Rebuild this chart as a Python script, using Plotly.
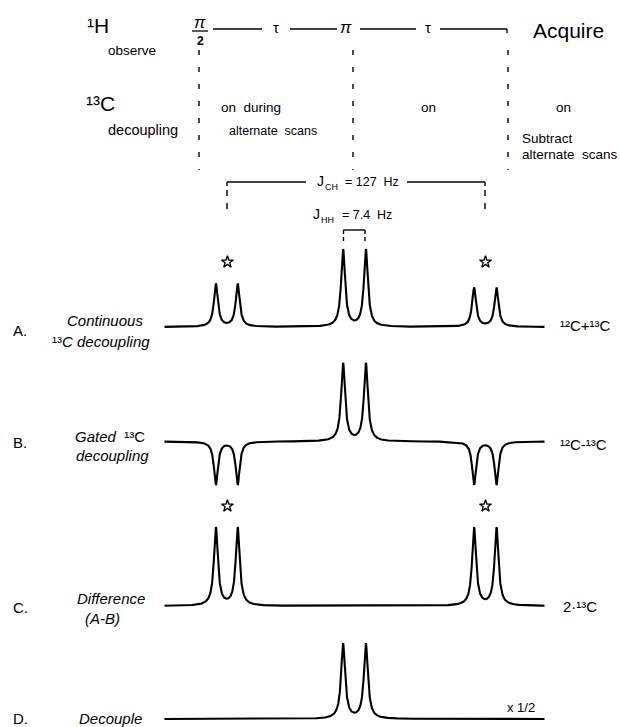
import numpy as np
import plotly.graph_objects as go

# ---------------- data ----------------
# schematic frequency axis (Hz, not to scale for the small splittings)
freq_limits = [-95.0, 95.0]
center_pos = [-5.7, 5.7]                      # 12C-H doublet (J_HH)
sat_pos = [-69.3, -58.4, 59.8, 71.0]          # 13C satellites (J_CH)
line_halfwidth = 1.2                          # Lorentzian half width (Hz)

spectra_names = ["A", "B", "C", "D"]
center_heights = {"A": [77, 77], "B": [78, 78], "C": [0, 0], "D": [75, 75]}
sat_heights = {"A": [43, 43, 39, 39], "B": [-43, -43, -43, -43],
               "C": [78, 78, 78, 78], "D": [0, 0, 0, 0]}
starred_spectra = ["A", "C"]                  # 13C satellites marked with *

# ---------------- layout constants ----------------
W, H = 620, 727
PX_PER_HZ = 2.0
ZERO_PX = 354.5
baseline_px = {"A": 327, "B": 441.5, "C": 606, "D": 719}
star_gap = 22                                 # px above the satellite tops
FONT = "Liberation Sans"

x = np.linspace(freq_limits[0], freq_limits[1], 7601)


def spectrum(name):
    pos = center_pos + sat_pos
    hts = center_heights[name] + sat_heights[name]
    y = np.zeros_like(x)
    g2 = line_halfwidth ** 2
    for p, h in zip(pos, hts):
        y += h * g2 / ((x - p) ** 2 + g2)
    return y


fig = go.Figure()
for name in spectra_names:
    offset = H - baseline_px[name]
    fig.add_trace(go.Scatter(x=x, y=spectrum(name) + offset,
                             mode="lines", line=dict(color="black", width=2.1),
                             hoverinfo="skip", showlegend=False))

# stars over the 13C satellite doublets
for name in starred_spectra:
    offset = H - baseline_px[name]
    sx = [(sat_pos[0] + sat_pos[1]) / 2 + 0.3, (sat_pos[2] + sat_pos[3]) / 2 + 0.1]
    top = max(sat_heights[name])
    fig.add_trace(go.Scatter(x=sx, y=[offset + top + star_gap] * 2, mode="markers",
                             marker=dict(symbol="star-open", size=9, color="black",
                                         line=dict(color="black", width=1.3)),
                             hoverinfo="skip", showlegend=False))

xr = [-ZERO_PX / PX_PER_HZ, (W - ZERO_PX) / PX_PER_HZ]


def px(xp):
    return xp / W


def py(yp):
    return 1 - yp / H


shapes = []


def seg(x0, y0, x1, y1, width=1.4, dash="solid"):
    shapes.append(dict(type="line", xref="paper", yref="paper",
                       x0=px(x0), y0=py(y0), x1=px(x1), y1=py(y1),
                       line=dict(color="black", width=width, dash=dash)))


# pulse sequence line
for a, b in [(213, 262), (290, 337), (360, 416), (440, 507)]:
    seg(a, 29, b, 29)
seg(507, 29, 507, 33)
seg(192, 31, 208, 31, width=1.3)
# dashed verticals
for xv in [199, 353, 508]:
    seg(xv, 50, xv, 170, width=1.4, dash="5px,12px")
# J_CH bracket
seg(227, 182, 306, 182)
seg(407, 182, 485, 182)
seg(227, 182, 227, 186)
seg(485, 182, 485, 186)
seg(227, 190, 227, 211, dash="6px,7px")
seg(485, 190, 485, 211, dash="6px,7px")
# J_HH bracket
seg(343.5, 230, 365, 230)
seg(343.5, 230, 343.5, 241, dash="4px,3px")
seg(365, 230, 365, 241, dash="4px,3px")

annotations = []


def ann(text, x0, y0, size=13, xanchor="left", family=FONT):
    annotations.append(dict(text=text, x=px(x0), y=py(y0), xref="paper", yref="paper",
                            showarrow=False, xanchor=xanchor, yanchor="middle",
                            font=dict(size=size, family=family, color="black")))


# header
ann("¹H", 85, 26, 21)
ann("observe", 106, 51, 13.5)
ann("<i>π</i>", 200, 23, 17, "center")
ann("<b>2</b>", 200, 41, 12, "center")
ann("τ", 276, 28, 15, "center")
ann("<i>π</i>", 346, 27, 17, "center")
ann("τ", 428, 28, 15, "center")
ann("Acquire", 568, 31, 21, "center")
ann("¹³C", 84, 103, 21)
ann("decoupling", 106, 130, 14.5)
ann("on  during", 219, 108, 13.5)
ann("alternate  scans", 227, 131, 12.5)
ann("on", 428, 108, 13.5, "center")
ann("on", 563, 108, 13.5, "center")
ann("Subtract", 520, 139, 13.5)
ann("alternate  scans", 520, 154, 13.5)
# coupling constants (J with subscripts)
ann("J", 315, 181, 14)
ann("CH", 323, 187, 9)
ann("= 127  Hz", 343, 182, 12.5)
ann("J", 311, 214, 14)
ann("HH", 319, 220, 9)
ann("= 7.4  Hz", 340, 215, 12.5)

# spectrum labels
ann("A.", 11, 330, 15)
ann("<i>Continuous</i>", 65, 320, 15)
ann("¹³<i>C decoupling</i>", 50, 341, 15)
ann("B.", 11, 442, 15)
ann("<i>Gated</i>  ¹³C", 73, 436, 15)
ann("<i>decoupling</i>", 74, 455, 15)
ann("C.", 11, 607, 15)
ann("<i>Difference</i>", 75, 598, 15)
ann("<i>(A-B)</i>", 83, 618, 15)
ann("D.", 11, 718, 15)
ann("<i>Decouple</i>", 77, 718, 15)
ann("¹²C+¹³C", 558, 326, 15)
ann("¹²C-¹³C", 558, 444, 15)
ann("2·¹³C", 561, 606, 15)
ann("x 1/2", 505, 707, 13)

fig.update_layout(
    width=W, height=H, margin=dict(l=0, r=0, t=0, b=0, pad=0),
    paper_bgcolor="white", plot_bgcolor="white",
    xaxis=dict(range=xr, visible=False, showgrid=False, zeroline=False, fixedrange=True),
    yaxis=dict(range=[0, H], visible=False, showgrid=False, zeroline=False, fixedrange=True),
    shapes=shapes, annotations=annotations, showlegend=False,
)

fig.write_html("out.html")
